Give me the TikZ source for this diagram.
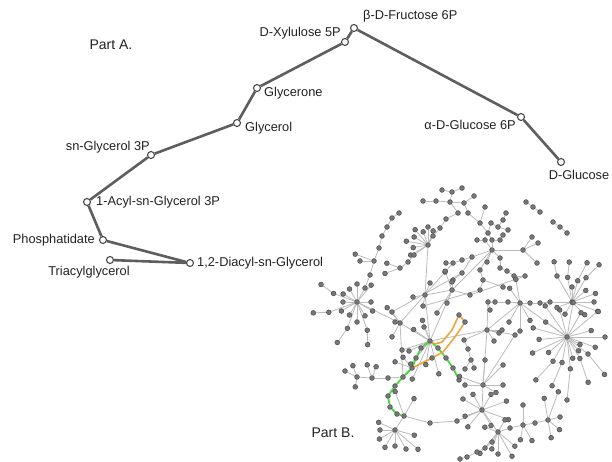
\documentclass[tikz,border=0pt]{standalone}
\usepackage{fontspec}
\setmainfont{Liberation Sans}
\pgfdeclarelayer{back}
\pgfdeclarelayer{bg}
\pgfdeclarelayer{mid}
\pgfsetlayers{back,bg,mid,main}
\definecolor{edgeA}{HTML}{5E5E5E}
\definecolor{nodeA}{HTML}{4A4A4A}
\definecolor{txt}{HTML}{222222}
\definecolor{edgeB}{HTML}{BBBBBB}
\definecolor{nodeB}{HTML}{777777}
\definecolor{nodeBd}{HTML}{4A4A4A}
\definecolor{grn}{HTML}{3FDC3A}
\definecolor{org}{HTML}{E9A73C}
\tikzset{
 pa/.style={circle, draw=nodeA, fill=white, line width=1.1pt, minimum size=7pt, inner sep=0pt},
 ea/.style={draw=edgeA, line width=2.6pt},
 lab/.style={font=\fontsize{12.8}{14}\selectfont, text=txt, inner sep=0pt},
 part/.style={font=\fontsize{14}{16}\selectfont, text=txt, inner sep=0pt},
 pb/.style={circle, draw=nodeBd, fill=nodeB, line width=0.5pt, minimum size=4.8pt, inner sep=0pt},
 eb/.style={draw=edgeB, line width=0.8pt},
 eg/.style={draw=grn, line width=1.8pt, line join=round},
 eo/.style={draw=org, line width=1.6pt, line join=round},
}
\newcommand\mkfan[2]{\foreach \t/\r [count=\i] in {#2} {\path (#1) ++(\t:\r) node[pb] (#1-f\i) {}; \begin{pgfonlayer}{bg}\draw[eb] (#1) -- (#1-f\i);\end{pgfonlayer}}}
\newcommand\mkchain[2]{\foreach \t/\r/\s [count=\i] in {#2} {\path (#1) ++(\t:\r) node[pb] (#1-c\i) {} (#1) ++({\t+6}:\s) node[pb] (#1-d\i) {}; \begin{pgfonlayer}{bg}\draw[eb] (#1) -- (#1-c\i) -- (#1-d\i);\end{pgfonlayer}}}
\newcommand\mkpath[3]{\path (#1) coordinate (#2-0); \foreach \x/\y [count=\i] in {#3} {\pgfmathtruncatemacro\jj{\i-1}\node[pb] (#2-\i) at (\x,\y) {}; \begin{pgfonlayer}{bg}\draw[eb] (#2-\jj) -- (#2-\i);\end{pgfonlayer}}}
\newcommand\mktree[2]{\foreach \x/\y/\p [count=\i] in {#2} {\node[pb] (#1\i) at (\x,\y) {}; \begin{pgfonlayer}{bg}\draw[eb] (\p) -- (#1\i);\end{pgfonlayer}}}
\newcommand\bgedge[2]{\begin{pgfonlayer}{bg}\draw[eb] (#1) -- (#2);\end{pgfonlayer}}
\begin{document}
\begin{tikzpicture}[x=1pt,y=-1pt]
\useasboundingbox (0,0) rectangle (612,462);
\begin{pgfonlayer}{back}
\fill[white] (0,0) rectangle (612,462);
\end{pgfonlayer}
% ---------------- Part A ----------------
\node[part] (partA) at (111,45) {Part A.};
\node[pa] (fr) at (354,28) {};
\node[pa] (xy) at (345,42) {};
\node[pa] (gn) at (257,88) {};
\node[pa] (gl) at (237,123) {};
\node[pa] (sg) at (151,155) {};
\node[pa] (ac) at (87,202) {};
\node[pa] (ph) at (103,240) {};
\node[pa] (dg) at (190,263) {};
\node[pa] (tg) at (110,260) {};
\node[pa] (ag) at (521,117) {};
\node[pa] (dgl) at (561,162) {};
\begin{pgfonlayer}{bg}
\draw[ea] (dgl) -- (ag) -- (fr) -- (xy) -- (gn) -- (gl) -- (sg) -- (ac) -- (ph) -- (dg) -- (tg);
\end{pgfonlayer}
\node[lab, anchor=west] (lfr) at (363,16) {β-D-Fructose 6P};
\node[lab, anchor=east] (lxy) at (341,33) {D-Xylulose 5P};
\node[lab, anchor=west] (lgn) at (264,93) {Glycerone};
\node[lab, anchor=west] (lgl) at (245,128) {Glycerol};
\node[lab, anchor=east] (lsg) at (150,147) {sn-Glycerol 3P};
\node[lab, anchor=west] (lac) at (96,202) {1-Acyl-sn-Glycerol 3P};
\node[lab, anchor=east] (lph) at (95,240) {Phosphatidate};
\node[lab, anchor=west] (ldg) at (197,263) {1,2-Diacyl-sn-Glycerol};
\node[lab] (ltg) at (89,272) {Triacylglycerol};
\node[lab, anchor=east] (lag) at (516,125) {α-D-Glucose 6P};
\node[lab] (ldgl) at (579,175) {D-Glucose};
% ---------------- Part B ----------------
\node[part] (partB) at (333,433) {Part B.};
% hubs
\node[pb] (a) at (430,341) {};
\node[pb] (b) at (567,337) {};
\node[pb] (c) at (520,303) {};
\node[pb] (d) at (482,410) {};
\node[pb] (e) at (498,432) {};
\node[pb] (f) at (404,416) {};
\node[pb] (F) at (395,430) {};
\node[pb] (g) at (357,302) {};
\node[pb] (h) at (428,245) {};
\node[pb] (k) at (450,202) {};
\node[pb] (i) at (492,250) {};
\node[pb] (p) at (572,302) {};
\node[pb] (m) at (412,368) {};
\node[pb] (l) at (483,385) {};
\node[pb] (u) at (452,290) {};
\node[pb] (y) at (425,295) {};
\node[pb] (s) at (400,323) {};
\node[pb] (r) at (487,330) {};
% green / orange path nodes
\node[pb] (ga) at (421,348) {};
\node[pb] (gb) at (416,358) {};
\node[pb] (m1) at (403,377) {};
\node[pb] (m2) at (395,386) {};
\node[pb] (m3) at (388,396) {};
\node[pb] (m4) at (390,407) {};
\node[pb] (m5) at (397,414) {};
\node[pb] (gc) at (438,348) {};
\node[pb] (gd) at (446,358) {};
\node[pb] (ge) at (453,368) {};
\node[pb] (gf) at (459,380) {};
\coordinate (oa) at (435,344);
\coordinate (ob) at (442,342);
\coordinate (oc) at (452,330);
\node[pb] (od) at (459,315) {};
\node[pb] (oe) at (465,322) {};
\coordinate (of) at (455,337);
\coordinate (og) at (443,352);
\node[pb] (oh) at (432,358) {};
% isolated chains
\node[pb] (z1) at (526,202) {};
\node[pb] (z2) at (533,207) {};
\node[pb] (z3) at (540,212) {};
\node[pb] (z4) at (553,222) {};
\node[pb] (z5) at (560,227) {};
\node[pb] (z6) at (567,233) {};
\begin{pgfonlayer}{bg}
\draw[eb] (z1) -- (z2) -- (z3);
\draw[eb] (z4) -- (z5) -- (z6);
\draw[eb] (a) -- (y) -- (h);
\draw[eb] (a) -- (u) -- (i);
\draw[eb] (a) -- (r) -- (c) -- (b);
\draw[eb] (r) -- (l) -- (d) -- (e);
\draw[eb] (a) -- (s) -- (g);
\draw[eb] (f) -- (F);
\draw[eb] (y) -- (u);
\draw[eb] (s) -- (m1);
\end{pgfonlayer}
\begin{pgfonlayer}{mid}
\draw[eg] (a) -- (ga) -- (gb) -- (m) -- (m1) -- (m2) -- (m3) -- (m4) -- (m5) -- (f);
\draw[eg] (a) -- (gc) -- (gd) -- (ge) -- (gf);
\draw[eo] (a) -- (oa) -- (ob) -- (oc) -- (od) -- (oe) -- (of) -- (og) -- (oh) -- (m);
\end{pgfonlayer}
% dense centre
\mktree{I}{487/262/i, 500/258/i, 485/240/i, 477/240/I3, 492/240/i, 500/240/I5, 488/233/I5, 480/223/I7, 485/207/I8, 491/223/I7, 498/227/I10, 503/220/I11, 506/213/I12, 508/230/I11, 503/235/I6, 472/257/i, 462/260/I16, 453/263/I17, 446/263/I18, 445/272/I18, 462/273/I16, 453/280/I21, 480/270/i, 483/280/I23, 500/268/I2, 507/271/I25, 514/276/I26, 525/276/I27, 503/287/I24, 523/250/i, 532/237/I30, 538/243/I30, 537/263/I30}
\mktree{Q}{430/283/y, 452/282/u, 480/290/I24, 488/302/r, 495/302/Q4, 508/302/Q5, 490/310/Q4, 413/297/y, 423/306/y, 437/313/u, 447/303/u, 470/295/u, 494/341/r, 499/333/r, 515/335/r, 464/340/r, 468/349/Q16, 471/360/Q17, 474/368/Q18, 485/360/l, 503/365/l, 465/369/Q18, 402/350/a, 409/351/a, 395/322/s, 392/312/s, 424/327/a}
\bgedge{Q6}{c}
\bgedge{s}{I20}
\bgedge{Q9}{Q3}
\bgedge{l}{Q15}
\bgedge{Q26}{I21}
\bgedge{Q12}{I28}
% fans and chains
\mkfan{a}{215/20, 250/22, 100/24, 115/42, 75/34, 130/30}
\mkfan{b}{0/38, 345/25, 20/30, 320/40, 300/28, 280/35, 255/28, 235/38, 215/26, 195/35, 175/28, 155/38, 140/24, 75/22, 50/18, 30/15}
\mkchain{b}{120/28/53, 101/26/51, 84/32/63, 59/25/50, 39/27/53}
\mkfan{c}{235/18, 260/24, 120/22, 90/28, 60/20}
\mkpath{c}{C}{530/303, 540/303, 550/302}
\bgedge{C-3}{p}
\mkfan{p}{270/15, 320/18, 340/25, 0/22, 20/28, 45/18, 160/16, 120/14}
\mkchain{p}{285/22/42, 300/28/46, 260/25/40, 240/30/44}
\mkfan{d}{340/26, 20/28, 300/18, 240/18, 210/22, 160/18, 130/22, 60/18}
\mkfan{e}{40/22, 60/28, 90/22, 110/18, 130/28, 200/14, 300/14}
\mkpath{e}{E}{492/442, 485/448, 477/452, 467/457, 460/459}
\mkpath{e}{W}{510/428, 523/425, 535/423, 548/420, 560/417}
\mkfan{W-2}{270/20, 60/18, 100/15}
\mkfan{W-4}{260/22, 290/30, 80/18, 40/15}
\mkfan{f}{300/20, 250/26}
\mkfan{F}{90/16, 120/20, 150/18, 180/15, 205/18, 60/22, 40/30, 15/20}
\mkpath{f}{X}{430/423, 457/421}
\bgedge{X-2}{d}
\mkpath{m1}{M}{388/378, 372/378, 357/377, 345/371}
\mkfan{M-3}{100/10, 250/12}
\mkfan{M-2}{250/14, 290/12}
\mkfan{g}{270/18, 240/15, 210/16, 180/14, 150/18, 120/15, 90/20, 60/16, 30/18, 0/14, 310/22}
\mkchain{g}{200/25/40, 110/28/45, 160/30/45, 70/30/44}
\mkpath{g}{G}{365/288, 370/275, 374/261, 379/248, 382/236, 387/227, 392/218, 399/213}
\mkfan{G-3}{180/14, 200/20}
\mkfan{s}{230/20, 120/16}
\mkfan{h}{250/14, 270/18, 230/20, 210/16, 290/15, 190/22, 170/15, 150/20}
\mkpath{h}{H}{414/255, 408/262, 400/268}
\mkfan{H-3}{200/14, 160/16}
\mktree{T}{452/192/k, 442/190/T1, 462/188/T1, 436/201/k, 423/201/T4, 464/203/k, 474/196/T6, 458/213/k, 468/213/T6, 446/219/T8, 440/228/T10, 433/236/T11}
\bgedge{T12}{h}
\bgedge{T9}{I8}
\mkfan{u}{250/20}
\mkfan{r}{0/15}
\mkfan{l}{180/18, 200/25, 0/20, 30/15}
\mkfan{m}{200/18, 230/14}
\end{tikzpicture}
\end{document}
